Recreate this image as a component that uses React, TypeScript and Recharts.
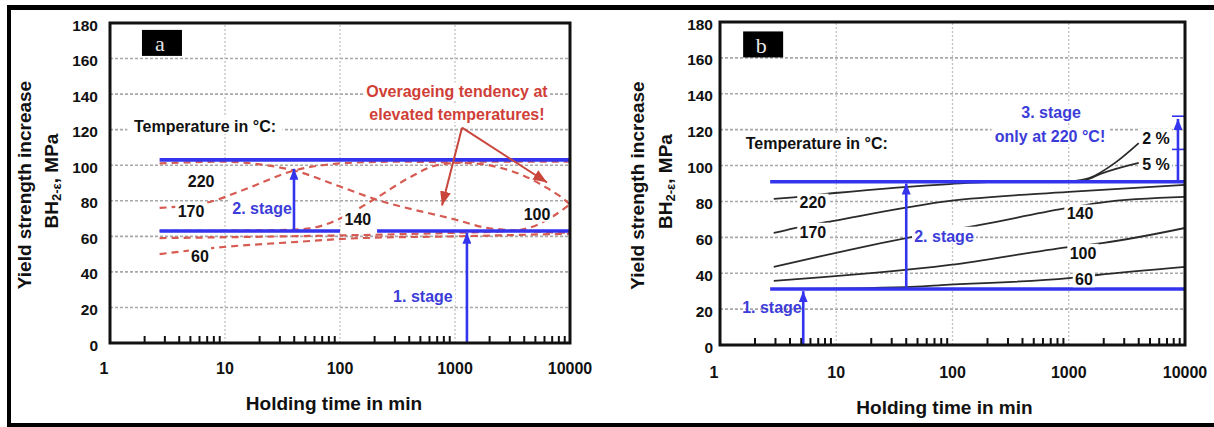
import React from 'react'
import {
  ComposedChart, Line, Scatter, XAxis, YAxis, CartesianGrid,
  ReferenceLine, ReferenceArea,
} from 'recharts'

// shared axes
const timeTicks = [1, 10, 100, 1000, 10000]
const minorTimeTicks = [
  2, 3, 4, 5, 6, 7, 8, 9,
  20, 30, 40, 50, 60, 70, 80, 90,
  200, 300, 400, 500, 600, 700, 800, 900,
  2000, 3000, 4000, 5000, 6000, 7000, 8000, 9000,
]
const strengthTicks = [0, 20, 40, 60, 80, 100, 120, 140, 160, 180]
const gridTimes = [10, 100, 1000]

// panel a – dashed curves per temperature (°C)
const a220 = [
  { t: 2.7, v: 101 }, { t: 10, v: 102 }, { t: 20, v: 100.5 }, { t: 40, v: 97 },
  { t: 100, v: 88 }, { t: 200, v: 81 }, { t: 1000, v: 69.5 }, { t: 2000, v: 64.5 }, { t: 10000, v: 62 },
]
const a170 = [
  { t: 2.7, v: 76 }, { t: 7, v: 79 }, { t: 15, v: 86.5 }, { t: 40, v: 97 }, { t: 100, v: 101 },
  { t: 300, v: 102 }, { t: 1500, v: 101 }, { t: 2500, v: 98.5 }, { t: 4000, v: 94 },
  { t: 6000, v: 88 }, { t: 8000, v: 83 }, { t: 10000, v: 78 },
]
const a140 = [
  { t: 2.7, v: 63 }, { t: 30, v: 63.5 }, { t: 55, v: 64.5 }, { t: 100, v: 70 }, { t: 200, v: 81 },
  { t: 400, v: 93 }, { t: 700, v: 100 }, { t: 1500, v: 102 }, { t: 10000, v: 102 },
]
const a100 = [
  { t: 2.7, v: 59 }, { t: 10, v: 59.5 }, { t: 100, v: 60.5 }, { t: 1000, v: 62 },
  { t: 3000, v: 63 }, { t: 5000, v: 66 }, { t: 7000, v: 71 }, { t: 10000, v: 78 },
]
const a60 = [
  { t: 2.7, v: 50 }, { t: 8, v: 53.5 }, { t: 45, v: 57 }, { t: 150, v: 59 },
  { t: 1000, v: 60 }, { t: 10000, v: 61.5 },
]
const aStageHigh = [{ t: 2.7, v: 103 }, { t: 10000, v: 103 }]
const aStageLow = [{ t: 2.7, v: 63 }, { t: 100, v: 63 }, { t: 150, v: null }, { t: 210, v: 63 }, { t: 10000, v: 63 }]

const aNotesBlack = [
  { t: 6.7, v: 122.3, text: 'Temperature in °C:' },
  { t: 6.2, v: 91.4, text: '220' },
  { t: 5.06, v: 74.6, text: '170' },
  { t: 6.06, v: 49.4, text: '60' },
  { t: 143, v: 70.1, text: '140' },
  { t: 5170, v: 72.9, text: '100' },
]
const aNotesBlue = [
  { t: 21, v: 76.3, text: '2. stage' },
  { t: 526, v: 26.9, text: '1. stage' },
]
const aNotesRed = [
  { t: 1040, v: 141.9, text: 'Overageing tendency at' },
  { t: 1040, v: 129, text: 'elevated temperatures!' },
]
const aTag = [{ t: 2.83, v: 168.8, text: 'a' }]
const aArrowsBlue = [
  { from: { t: 39.8, v: 63 }, to: { t: 39.8, v: 98 } },
  { from: { t: 1270, v: 0 }, to: { t: 1270, v: 62 } },
]
const aArrowsRed = [
  { from: { t: 1150, v: 121.1 }, to: { t: 771, v: 77.4 } },
  { from: { t: 1150, v: 121.1 }, to: { t: 6320, v: 90.3 } },
]

// panel b – solid curves per temperature (°C)
const b220 = [
  { t: 2.9, v: 81.4 }, { t: 4.3, v: 82.3 }, { t: 9.8, v: 84.7 }, { t: 95, v: 89.7 },
  { t: 300, v: 91 }, { t: 1000, v: 91 },
]
const b2pct = [{ t: 1000, v: 91 }, { t: 1500, v: 93 }, { t: 2500, v: 101.5 }, { t: 4000, v: 112.5 }]
const b5pct = [{ t: 1000, v: 91 }, { t: 1400, v: 92 }, { t: 1900, v: 95.5 }, { t: 4000, v: 101.5 }]
const b170 = [
  { t: 2.9, v: 62.4 }, { t: 4.3, v: 65 }, { t: 9.2, v: 69 }, { t: 95, v: 80.3 },
  { t: 1000, v: 85.3 }, { t: 10000, v: 89.2 },
]
const b140 = [
  { t: 2.9, v: 43.5 }, { t: 40, v: 59.6 }, { t: 173, v: 66.9 }, { t: 900, v: 76 },
  { t: 1900, v: 79.4 }, { t: 10000, v: 82.5 },
]
const b100 = [
  { t: 2.9, v: 35.7 }, { t: 95, v: 44.6 }, { t: 1000, v: 54.6 }, { t: 2000, v: 56.9 }, { t: 10000, v: 65.2 },
]
const b60 = [
  { t: 2.9, v: 31.2 }, { t: 40, v: 32.3 }, { t: 80, v: 33.4 }, { t: 1000, v: 37.3 },
  { t: 1750, v: 39 }, { t: 10000, v: 43.5 },
]
const bStageHigh = [{ t: 2.7, v: 91 }, { t: 10000, v: 91 }]
const bStageLow = [{ t: 2.7, v: 31.2 }, { t: 10000, v: 31.2 }]

const bNotesBlack = [
  { t: 6.8, v: 112.6, text: 'Temperature in °C:' },
  { t: 6.3, v: 79.7, text: '220' },
  { t: 6.3, v: 63.5, text: '170' },
  { t: 1250, v: 73.6, text: '140' },
  { t: 1327, v: 51.8, text: '100' },
  { t: 1350, v: 36.8, text: '60' },
  { t: 5630, v: 115.9, text: '2 %' },
  { t: 5630, v: 101.4, text: '5 %' },
]
const bNotesBlue = [
  { t: 84.5, v: 61.3, text: '2. stage' },
  { t: 705, v: 129.9, text: '3. stage' },
  { t: 690, v: 116.5, text: 'only at 220 °C!' },
]
const bNotesBlueBare = [{ t: 2.8, v: 21.7, text: '1. stage' }]
const bTag = [{ t: 2.35, v: 167.5, text: 'b' }]
const bArrowsBlue = [
  { from: { t: 5.2, v: 0 }, to: { t: 5.2, v: 30 } },
  { from: { t: 40, v: 31.2 }, to: { t: 40, v: 90 } },
  { from: { t: 8700, v: 91 }, to: { t: 8700, v: 126 } },
]
const bBracket = [
  { from: { t: 7730, v: 127.5 }, to: { t: 10000, v: 127.5 } },
  { from: { t: 7730, v: 109 }, to: { t: 10000, v: 109 } },
]

const allTimeTicks = [...timeTicks, ...minorTimeTicks].sort((p, q) => p - q)

const FONT = '"Liberation Sans", Arial, sans-serif'
const INK = '#111'
const BLUE = '#3434ee'
const BLUE_TEXT = '#3c3cd8'
const RED = '#d65b52'
const RED_TEXT = '#cf3f37'
const TOP = 2500

function textWidth(s: string, fs: number) {
  let w = 0
  for (const ch of s) {
    if (' .,:;!il\'t'.includes(ch)) w += 0.3
    else if ('mwMW%'.includes(ch)) w += 0.86
    else if (ch >= 'A' && ch <= 'Z') w += 0.7
    else w += 0.57
  }
  return w * fs
}

const note = (color: string, bg = true, size = 16) => (p: any) => {
  const { cx, cy, payload } = p
  if (cx == null || cy == null) return <g />
  const w = textWidth(payload.text, size)
  return (
    <g>
      {bg && <rect x={cx - w / 2 - 2} y={cy - size * 0.52} width={w + 4} height={size * 1.04} fill="#fff" />}
      <text x={cx} y={cy + 1} textAnchor="middle" dominantBaseline="central"
        fontFamily={FONT} fontWeight={700} fontSize={size} fill={color}>
        {payload.text}
      </text>
    </g>
  )
}

const tag = (p: any) => {
  const { cx, cy, payload } = p
  if (cx == null || cy == null) return <g />
  return (
    <g>
      <rect x={cx - 20} y={cy - 13} width={40} height={26} fill="#000" />
      <text x={cx - 2} y={cy + 1} textAnchor="middle" dominantBaseline="central"
        fontFamily='"Liberation Serif", serif' fontSize={22} fill="#e6e6e6">
        {payload.text}
      </text>
    </g>
  )
}

const timeTick = (gap: number) => (p: any) => {
  const value = p.payload.value
  if (timeTicks.includes(value)) {
    return (
      <text x={p.x + (value === 1 ? -6 : 0)} y={p.y + gap} textAnchor="middle" dominantBaseline="central"
        fontFamily={FONT} fontWeight={700} fontSize={16} fill={INK}>
        {value}
      </text>
    )
  }
  return <line x1={p.x} x2={p.x} y1={p.y} y2={p.y - 7} stroke={INK} strokeWidth={2} />
}

const strengthTick = (gap: number) => (p: any) => (
  <text x={p.x - gap} y={p.y + 2} textAnchor="end" dominantBaseline="central"
    fontFamily={FONT} fontWeight={700} fontSize={15.5} fill={INK}>
    {p.payload.value}
  </text>
)

const xTitle = (dx: number, dy: number) => (p: any) => {
  const vb = p.viewBox
  return (
    <text x={vb.x + vb.width / 2 + dx} y={vb.y + dy} textAnchor="middle" dominantBaseline="central"
      fontFamily={FONT} fontWeight={700} fontSize={19} fill={INK}>
      Holding time in min
    </text>
  )
}

const yTitle = (x1: number, x2: number) => (p: any) => {
  const vb = p.viewBox
  const cy = vb.y + vb.height / 2
  return (
    <g fontFamily={FONT} fontWeight={700} fontSize={19} fill={INK}>
      <text x={vb.x + x1} y={cy + 2} transform={`rotate(-90 ${vb.x + x1} ${cy + 2})`}
        textAnchor="middle" dominantBaseline="central">
        Yield strength increase
      </text>
      <text x={vb.x + x2} y={cy - 2} transform={`rotate(-90 ${vb.x + x2} ${cy - 2})`}
        textAnchor="middle" dominantBaseline="central">
        BH<tspan fontSize={13} dy={5}>2-ε</tspan><tspan dy={-5}>, MPa</tspan>
      </text>
    </g>
  )
}

function axes(yWidth: number, gapX: number, gapY: number, titleX: [number, number], titleDx: number, titleDy: number) {
  return [
    <CartesianGrid key="grid" vertical={false} stroke="#a8a8a8" strokeWidth={1.6} strokeDasharray="3 2" />,
    <XAxis key="x" dataKey="t" type="number" scale="log" domain={[1, 10000]} allowDataOverflow
      ticks={allTimeTicks} interval={0} tick={timeTick(gapX)} tickLine={false} axisLine={false}
      tickSize={0} tickMargin={0} height={40} label={{ content: xTitle(titleDx, titleDy) }} />,
    <YAxis key="y" type="number" domain={[0, 180]} allowDataOverflow ticks={strengthTicks} interval={0}
      tick={strengthTick(gapY)} tickLine={false} axisLine={false} tickSize={0} tickMargin={0}
      width={yWidth} label={{ content: yTitle(titleX[0], titleX[1]) }} />,
    ...gridTimes.map(t => (
      <ReferenceLine key={`vg${t}`} x={t} stroke="#c2c2c2" strokeWidth={1.3} strokeDasharray="2 2" />
    )),
  ]
}

const curve = (data: any[], key: string, dashed: boolean) => (
  <Line key={key} data={data} dataKey="v" type="monotone"
    stroke={dashed ? RED : '#2b2b2b'} strokeWidth={dashed ? 2.2 : 1.8}
    strokeDasharray={dashed ? '7 5' : undefined}
    dot={false} activeDot={false} isAnimationActive={false} />
)

const stage = (data: any[], key: string) => (
  <Line key={key} data={data} dataKey="v" type="linear" stroke={BLUE} strokeWidth={3.6}
    dot={false} activeDot={false} isAnimationActive={false} />
)

const arrows = (list: any[], color: string, marker: string | undefined, width: number, key: string) =>
  list.map((a, i) => (
    <ReferenceLine key={`${key}${i}`} segment={[{ x: a.from.t, y: a.from.v }, { x: a.to.t, y: a.to.v }]}
      stroke={color} strokeWidth={width} markerEnd={marker ? `url(#${marker})` : undefined}
      ifOverflow="visible" zIndex={TOP} />
  ))

function PanelA() {
  return (
    <ComposedChart width={600} height={427} margin={{ top: 23, right: 30, left: 0, bottom: 44 }}>
      {axes(110, 25, 12, [24, 51], -6, 60)}
      {curve(a60, 'c60', true)}
      {curve(a100, 'c100', true)}
      {curve(a140, 'c140', true)}
      {curve(a170, 'c170', true)}
      {curve(a220, 'c220', true)}
      {stage(aStageHigh, 'sh')}
      {stage(aStageLow, 'sl')}
      <Scatter data={aNotesBlack} dataKey="v" shape={note(INK)} isAnimationActive={false} />
      <Scatter data={aNotesBlue} dataKey="v" shape={note(BLUE_TEXT)} isAnimationActive={false} />
      <Scatter data={aNotesRed} dataKey="v" shape={note(RED_TEXT)} isAnimationActive={false} />
      <Scatter data={aTag} dataKey="v" shape={tag} isAnimationActive={false} />
      {arrows(aArrowsBlue, BLUE, 'headBlue', 2.6, 'ab')}
      {arrows(aArrowsRed, '#c9463c', 'headRed', 2, 'ar')}
      <ReferenceArea x1={1} x2={10000} y1={0} y2={180} fill="none" stroke={INK} strokeWidth={3}
        ifOverflow="visible" zIndex={TOP} />
    </ComposedChart>
  )
}

function PanelB() {
  return (
    <ComposedChart width={614} height={427} margin={{ top: 22, right: 29, left: 0, bottom: 42 }}>
      {axes(120, 27, 7, [37, 65], -8, 62)}
      {curve(b60, 'c60', false)}
      {curve(b100, 'c100', false)}
      {curve(b140, 'c140', false)}
      {curve(b170, 'c170', false)}
      {curve(b220, 'c220', false)}
      {curve(b2pct, 'c2', false)}
      {curve(b5pct, 'c5', false)}
      {stage(bStageHigh, 'sh')}
      {stage(bStageLow, 'sl')}
      <Scatter data={bNotesBlack} dataKey="v" shape={note(INK)} isAnimationActive={false} />
      <Scatter data={bNotesBlue} dataKey="v" shape={note(BLUE_TEXT)} isAnimationActive={false} />
      <Scatter data={bNotesBlueBare} dataKey="v" shape={note(BLUE_TEXT, false)} isAnimationActive={false} />
      <Scatter data={bTag} dataKey="v" shape={tag} isAnimationActive={false} />
      {arrows(bArrowsBlue, BLUE, 'headBlue', 2.6, 'bb')}
      {arrows(bBracket, BLUE, undefined, 1.6, 'bk')}
      <ReferenceArea x1={1} x2={10000} y1={0} y2={180} fill="none" stroke={INK} strokeWidth={3}
        ifOverflow="visible" zIndex={TOP} />
    </ComposedChart>
  )
}

export default function App() {
  return (
    <div style={{ position: 'absolute', left: 0, top: 0, width: 1214, height: 427, background: '#fff', overflow: 'hidden' }}>
      <svg width={0} height={0} style={{ position: 'absolute' }}>
        <defs>
          <marker id="headBlue" viewBox="0 0 10 10" refX={10} refY={5} markerWidth={11} markerHeight={9}
            markerUnits="userSpaceOnUse" orient="auto" preserveAspectRatio="none">
            <path d="M0,0 L10,5 L0,10 z" fill={BLUE} />
          </marker>
          <marker id="headRed" viewBox="0 0 10 10" refX={10} refY={5} markerWidth={14} markerHeight={11}
            markerUnits="userSpaceOnUse" orient="auto" preserveAspectRatio="none">
            <path d="M0,0 L10,5 L0,10 z" fill="#c9463c" />
          </marker>
        </defs>
      </svg>
      <div style={{
        position: 'absolute', left: 7, top: 5, width: 1207, height: 422, boxSizing: 'border-box',
        borderTop: '5px solid #000', borderLeft: '4px solid #000', borderBottom: '4px solid #000',
      }} />
      <div style={{ position: 'absolute', left: 0, top: 0 }}><PanelA /></div>
      <div style={{ position: 'absolute', left: 600, top: 0 }}><PanelB /></div>
    </div>
  )
}
